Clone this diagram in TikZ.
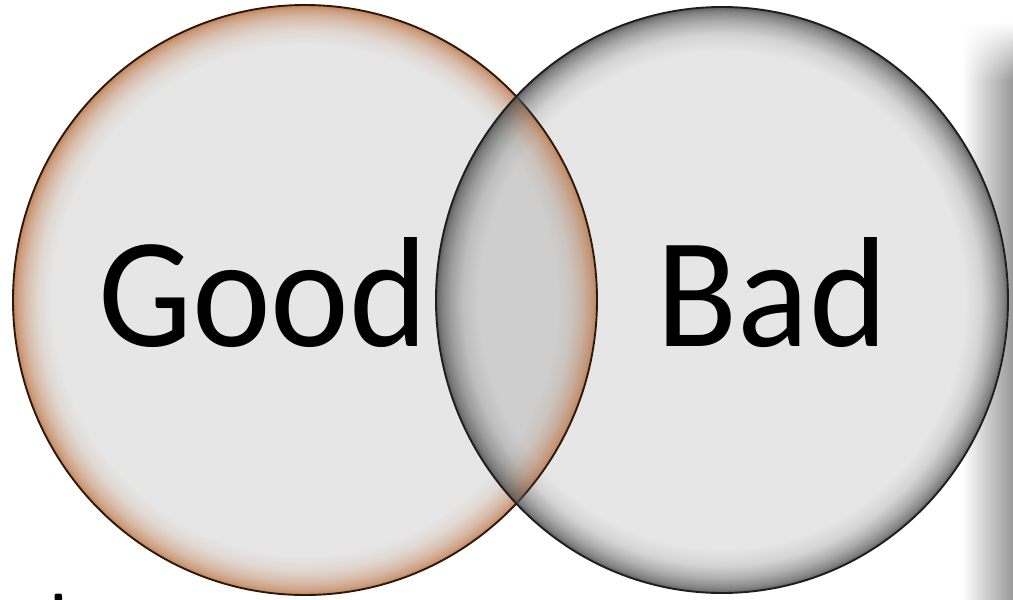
\documentclass[tikz,border=0pt]{standalone}
\usepackage{fontspec}
\setmainfont[FakeStretch=0.95]{Carlito}
\usetikzlibrary{fadings}
\definecolor{fillgray}{RGB}{230,230,230}
\definecolor{rimbrown}{RGB}{190,115,65}
\definecolor{rimgray}{RGB}{80,80,80}
\definecolor{edgebrown}{RGB}{45,25,12}
\definecolor{edgegray}{RGB}{30,30,30}
\tikzfading[name=fadetop, top color=transparent!100, bottom color=transparent!0]
% radial masks: transparent in the middle, opaque towards the rim (25bp = rim)
\pgfdeclareradialshading{rimmaskA}{\pgfpoint{0bp}{0bp}}{%
  color(0bp)=(black); color(21.6bp)=(black); color(22.8bp)=(black!88!white);
  color(23.8bp)=(black!65!white); color(24.5bp)=(black!40!white);
  color(25bp)=(black!10!white); color(50bp)=(black!10!white)}
\pgfdeclarefading{rimfadeA}{\pgfuseshading{rimmaskA}}
\pgfdeclareradialshading{rimmaskB}{\pgfpoint{0bp}{0bp}}{%
  color(0bp)=(black); color(21.2bp)=(black); color(22.6bp)=(black!88!white);
  color(23.7bp)=(black!62!white); color(24.5bp)=(black!35!white);
  color(25bp)=(black!5!white); color(50bp)=(black!5!white)}
\pgfdeclarefading{rimfadeB}{\pgfuseshading{rimmaskB}}
\tikzset{
  setlabel/.style={anchor=base, inner sep=0pt, font=\fontsize{157}{160}\selectfont, text=black},
  leftglow/.style={fill=rimbrown, path fading=rimfadeA, fit fading=true},
  rightglow/.style={fill=rimgray, path fading=rimfadeB, fit fading=true},
}
\begin{document}
\begin{tikzpicture}[x=1pt,y=-1pt]
\useasboundingbox (0,0) rectangle (1013,600);
% shadow band of a panel at the right
\shade[left color=white, right color=black!40, path fading=fadetop] (962,22) rectangle (1013,80);
\shade[left color=white, right color=black!40] (962,80) rectangle (1013,600);
% left set
\coordinate (cl) at (305,300);
\fill[fillgray] (cl) ellipse [x radius=292, y radius=295];
\path[leftglow] (cl) ellipse [x radius=292, y radius=295];
\draw[edgebrown, line width=1.9pt] (cl) ellipse [x radius=292, y radius=295];
% right set
\coordinate (cr) at (722,300);
\fill[fillgray] (cr) ellipse [x radius=286, y radius=293];
% overlap: left set seen through the right one (multiply look)
\begin{scope}
  \clip (cr) ellipse [x radius=286, y radius=293];
  \fill[black, opacity=0.1] (cl) ellipse [x radius=292, y radius=295];
  \path[leftglow] (cl) ellipse [x radius=292, y radius=295];
  \draw[edgebrown, line width=1.9pt] (cl) ellipse [x radius=292, y radius=295];
\end{scope}
\path[rightglow] (cr) ellipse [x radius=286, y radius=293];
\draw[edgegray, line width=1.9pt] (cr) ellipse [x radius=286, y radius=293];
% labels
\node[setlabel] (good) at (263,346) {Good};
\node[setlabel] (bad) at (772,346) {Bad};
% partly visible bullet
\fill[rounded corners=2pt] (54.5,606) rectangle (62,593.5);
\end{tikzpicture}
\end{document}
